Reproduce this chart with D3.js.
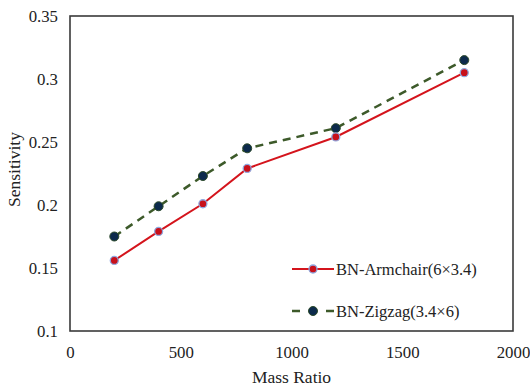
<!DOCTYPE html>
<html>
<head>
<meta charset="utf-8">
<script src="https://cdn.jsdelivr.net/npm/d3@7"></script>
<style>
  body { margin: 0; background: #fff; }
  text { font-family: "Liberation Serif", "DejaVu Serif", serif; fill: #222; }
</style>
</head>
<body>
<div id="chart"></div>
<script>
// values
var massRatio = [200, 400, 600, 800, 1200, 1780];
var armchair = [0.156, 0.179, 0.201, 0.229, 0.254, 0.305];
var zigzag = [0.175, 0.199, 0.223, 0.245, 0.261, 0.315];
var xTicks = [0, 500, 1000, 1500, 2000];
var yTicks = [0.1, 0.15, 0.2, 0.25, 0.3, 0.35];
var seriesNames = ["BN-Armchair(6\u00d73.4)", "BN-Zigzag(3.4\u00d76)"];

var width = 530, height = 388;
var margin = {top: 16, right: 17, bottom: 57, left: 70};

var svg = d3.select("#chart").append("svg")
  .attr("width", width)
  .attr("height", height);

var x = d3.scaleLinear().domain([0, 2000]).range([margin.left, width - margin.right]);
var y = d3.scaleLinear().domain([0.1, 0.35]).range([height - margin.bottom, margin.top]);

// frame
svg.append("rect")
  .attr("x", x(0))
  .attr("y", y(0.35))
  .attr("width", x(2000) - x(0))
  .attr("height", y(0.1) - y(0.35))
  .attr("fill", "none")
  .attr("stroke", "#3a3a3a")
  .attr("stroke-width", 1.6);

// axes, labels only
svg.append("g")
  .attr("transform", "translate(0," + y(0.1) + ")")
  .call(d3.axisBottom(x).tickValues(xTicks).tickSize(0).tickPadding(15).tickFormat(d3.format("d")));
svg.append("g")
  .attr("transform", "translate(" + x(0) + ",0)")
  .call(d3.axisLeft(y).tickValues(yTicks).tickSize(0).tickPadding(12).tickFormat(function(d){ return String(+d.toFixed(2)); }));
svg.selectAll(".domain").remove();
svg.selectAll(".tick text")
  .style("font-family", "'Liberation Serif', serif")
  .style("font-size", "16.8px")
  .attr("fill", "#222");

svg.append("text")
  .attr("x", (x(0) + x(2000)) / 2)
  .attr("y", 383)
  .attr("text-anchor", "middle")
  .style("font-size", "17.5px")
  .text("Mass Ratio");

svg.append("text")
  .attr("transform", "translate(20," + ((y(0.1) + y(0.35)) / 2 - 4) + ") rotate(-90)")
  .attr("text-anchor", "middle")
  .style("font-size", "17.5px")
  .text("Sensitivity");

var line = d3.line()
  .x(function(d){ return x(d[0]); })
  .y(function(d){ return y(d[1]); });

var armData = massRatio.map(function(m, i){ return [m, armchair[i]]; });
var zigData = massRatio.map(function(m, i){ return [m, zigzag[i]]; });

svg.append("path")
  .datum(zigData)
  .attr("d", line)
  .attr("fill", "none")
  .attr("stroke", "#3d5a2a")
  .attr("stroke-width", 2.5)
  .attr("stroke-dasharray", "8,6");

svg.append("path")
  .datum(armData)
  .attr("d", line)
  .attr("fill", "none")
  .attr("stroke", "#d4141c")
  .attr("stroke-width", 2);

svg.selectAll(".zig").data(zigData).enter().append("circle")
  .attr("cx", function(d){ return x(d[0]); })
  .attr("cy", function(d){ return y(d[1]); })
  .attr("r", 4.5)
  .attr("fill", "#0c2a4c")
  .attr("stroke", "#2c4a2a")
  .attr("stroke-width", 1);

svg.selectAll(".arm").data(armData).enter().append("circle")
  .attr("cx", function(d){ return x(d[0]); })
  .attr("cy", function(d){ return y(d[1]); })
  .attr("r", 4)
  .attr("fill", "#c8101a")
  .attr("stroke", "#8fa8e0")
  .attr("stroke-width", 1.3);

// legend
var lx1 = 292, lx2 = 334, lyA = 269, lyZ = 311;
svg.append("line").attr("x1", lx1).attr("x2", lx2).attr("y1", lyA).attr("y2", lyA)
  .attr("stroke", "#d4141c").attr("stroke-width", 2);
svg.append("circle").attr("cx", (lx1 + lx2) / 2).attr("cy", lyA).attr("r", 4)
  .attr("fill", "#c8101a").attr("stroke", "#8fa8e0").attr("stroke-width", 1.3);
svg.append("line").attr("x1", lx1).attr("x2", lx2).attr("y1", lyZ).attr("y2", lyZ)
  .attr("stroke", "#3d5a2a").attr("stroke-width", 2.5).attr("stroke-dasharray", "8,26");
svg.append("circle").attr("cx", (lx1 + lx2) / 2).attr("cy", lyZ).attr("r", 4.5)
  .attr("fill", "#0c2a4c").attr("stroke", "#2c4a2a").attr("stroke-width", 1);

svg.selectAll(".legtext").data(seriesNames).enter().append("text")
  .attr("x", 336)
  .attr("y", function(d, i){ return (i === 0 ? lyA : lyZ) + 6; })
  .style("font-size", "16.5px")
  .text(function(d){ return d; });
</script>
</body>
</html>
